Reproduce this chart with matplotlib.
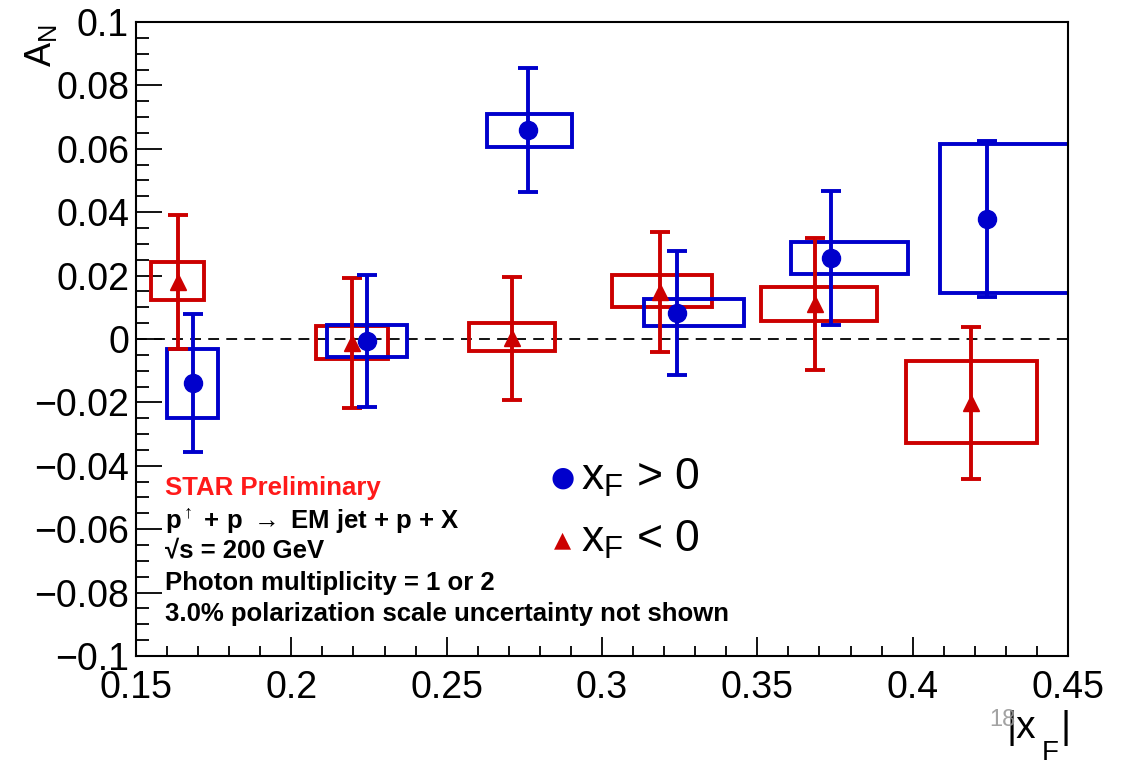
import matplotlib
matplotlib.use("Agg")
import matplotlib.pyplot as plt
from matplotlib.patches import Rectangle
from matplotlib.ticker import MultipleLocator
import numpy as np

plt.rcParams['font.family'] = ['Liberation Sans', 'DejaVu Sans']
plt.rcParams['mathtext.fontset'] = 'custom'
plt.rcParams['mathtext.rm'] = 'Liberation Sans'
plt.rcParams['mathtext.it'] = 'Liberation Sans'
plt.rcParams['mathtext.bf'] = 'Liberation Sans:bold'

# x_F > 0 (blue circles)
pos_x = [0.1683, 0.2244, 0.2762, 0.3241, 0.3737, 0.4239]
pos_y = [-0.0139, -0.0007, 0.0659, 0.0082, 0.0256, 0.0379]
pos_stat = [0.0218, 0.0209, 0.0196, 0.0196, 0.0212, 0.0245]
pos_sys_lo = [-0.0249, -0.0057, 0.0606, 0.0041, 0.0205, 0.0145]
pos_sys_hi = [-0.0032, 0.0044, 0.0710, 0.0126, 0.0306, 0.0615]
pos_box_x0 = [0.1600, 0.2115, 0.2631, 0.3135, 0.3609, 0.4088]
pos_box_x1 = [0.1764, 0.2373, 0.2904, 0.3457, 0.3986, 0.4515]

# x_F < 0 (red triangles)
neg_x = [0.1635, 0.2194, 0.2710, 0.3186, 0.3685, 0.4188]
neg_y = [0.0180, -0.0013, 0.0003, 0.0148, 0.0110, -0.0202]
neg_stat = [0.0212, 0.0206, 0.0194, 0.0190, 0.0208, 0.0241]
neg_sys_lo = [0.0123, -0.0063, -0.0038, 0.0101, 0.0057, -0.0328]
neg_sys_hi = [0.0243, 0.0041, 0.0050, 0.0202, 0.0164, -0.0069]
neg_box_x0 = [0.1548, 0.2081, 0.2572, 0.3032, 0.3511, 0.3977]
neg_box_x1 = [0.1720, 0.2311, 0.2849, 0.3354, 0.3885, 0.4399]

xtick_vals = [0.15, 0.2, 0.25, 0.3, 0.35, 0.4, 0.45]
xtick_labels = ['0.15', '0.2', '0.25', '0.3', '0.35', '0.4', '0.45']

blue = '#0000cc'
red = '#cc0000'

fig = plt.figure(figsize=(11.32, 7.64), dpi=100)
ax = fig.add_axes([0.1201, 0.1414, 0.8234, 0.8298])
ax.set_xlim(0.15, 0.45)
ax.set_ylim(-0.1, 0.1)

ax.axhline(0, color='black', lw=1.3, ls=(0, (6, 4)), zorder=1)

def draw_set(xs, ys, stat, lo, hi, x0, x1, color, marker, msize):
    for i in range(len(xs)):
        ax.add_patch(Rectangle((x0[i], lo[i]), x1[i] - x0[i], hi[i] - lo[i],
                               fill=False, edgecolor=color, lw=2.8, zorder=2))
    ax.errorbar(xs, ys, yerr=stat, fmt=marker, color=color, ms=msize,
                elinewidth=2.8, capsize=7.5, capthick=2.8, zorder=3)

draw_set(neg_x, neg_y, neg_stat, neg_sys_lo, neg_sys_hi, neg_box_x0, neg_box_x1,
         red, '^', 12)
draw_set(pos_x, pos_y, pos_stat, pos_sys_lo, pos_sys_hi, pos_box_x0, pos_box_x1,
         blue, 'o', 13)

# ROOT style ticks
ax.xaxis.set_minor_locator(MultipleLocator(0.01))
ax.yaxis.set_minor_locator(MultipleLocator(0.005))
ax.tick_params(which='both', direction='in', top=False, right=False, width=1.3)
ax.tick_params(axis='x', which='major', length=14, labelsize=27, pad=10)
ax.tick_params(axis='x', which='minor', length=7)
ax.tick_params(axis='y', which='major', length=19, labelsize=27, pad=5)
ax.tick_params(axis='y', which='minor', length=9)
for s in ax.spines.values():
    s.set_linewidth(1.5)

ax.set_xticks(xtick_vals)
ax.set_xticklabels(xtick_labels)
yt = np.round(np.arange(-0.1, 0.1001, 0.02), 2)
ax.set_yticks(yt)
ax.set_yticklabels(['0' if v == 0 else ('\u2212' if v < 0 else '') + ('%g' % abs(v)) for v in yt])

# axis titles
fig.text(0.036, 0.968, r'A$_{\mathrm{N}}$', rotation=90, fontsize=26, ha='center', va='top')
fig.text(1007 / 1132, 1 - 728 / 764, '|x', fontsize=28, ha='left', va='center')
fig.text(1042 / 1132, 1 - 753 / 764, 'F', fontsize=20, ha='left', va='center')
fig.text(1061 / 1132, 1 - 728 / 764, '|', fontsize=28, ha='left', va='center')
fig.text(989 / 1132, 1 - 720 / 764, '18', fontsize=17, color='#999999', ha='left',
         va='center', alpha=0.9)

# legend
fig.text(0.497, 0.375, '\u25cf', color=blue, fontsize=20, ha='center', va='center',
         family='DejaVu Sans')
fig.text(0.513, 0.375, r'x$_{\mathrm{F}}$ > 0', fontsize=32, ha='left', va='center')
fig.text(0.497, 0.293, '\u25b2', color=red, fontsize=16, ha='center', va='center',
         family='DejaVu Sans')
fig.text(0.513, 0.293, r'x$_{\mathrm{F}}$ < 0', fontsize=32, ha='left', va='center')

# annotation block
tx = 0.146
fs = 18.5
fig.text(tx, 0.361, 'STAR Preliminary', color='#ff1a1a', fontsize=fs, fontweight='bold',
         va='center')
fig.text(tx, 0.318, r'p$^{\uparrow}$ + p $\rightarrow$ EM jet + p + X', fontsize=fs,
         fontweight='bold', va='center')
fig.text(tx, 0.280, '\u221as = 200 GeV', fontsize=fs, fontweight='bold', va='center')
fig.text(tx, 0.237, 'Photon multiplicity = 1 or 2', fontsize=fs, fontweight='bold',
         va='center')
fig.text(tx, 0.196, '3.0% polarization scale uncertainty not shown', fontsize=fs,
         fontweight='bold', va='center')

fig.savefig('out.png', dpi=100)
